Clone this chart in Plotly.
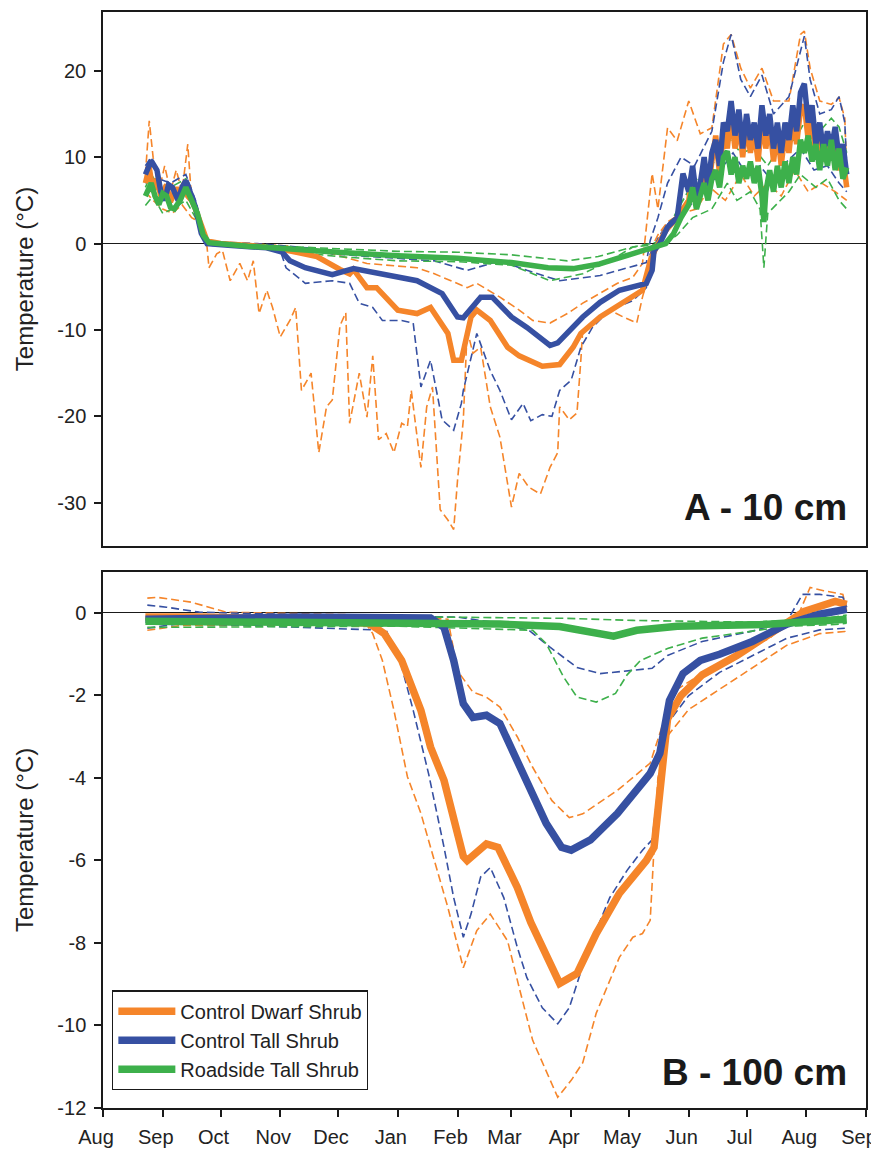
import plotly.graph_objects as go

# ---------------- names / ticks ----------------
series_names = ["Control Dwarf Shrub", "Control Tall Shrub", "Roadside Tall Shrub"]
month_ticks = ["Aug", "Sep", "Oct", "Nov", "Dec", "Jan", "Feb", "Mar", "Apr", "May", "Jun", "Jul", "Aug", "Sep"]
month_tick_dates = ["2012-08-01","2012-09-01","2012-10-01","2012-11-01","2012-12-01","2013-01-01",
                    "2013-02-01","2013-03-01","2013-04-01","2013-05-01","2013-06-01","2013-07-01",
                    "2013-08-01","2013-09-01"]
a_tick_vals = [-30, -20, -10, 0, 10, 20]
a_tick_text = ["-30", "-20", "-10", "0", "10", "20"]
b_tick_vals = [-12, -10, -8, -6, -4, -2, 0]
b_tick_text = ["-12", "-10", "-8", "-6", "-4", "-2", "0"]

# ================= Panel A : 10 cm =================
a_cds_mean_dates = ["2012-08-23","2012-08-25","2012-08-27","2012-08-29","2012-08-31","2012-09-03","2012-09-05","2012-09-08","2012-09-10","2012-09-12","2012-09-14","2012-09-16","2012-09-18","2012-09-21","2012-09-24","2012-10-01","2012-10-20","2012-11-05","2012-11-20","2012-12-02","2012-12-07","2012-12-09","2012-12-12","2012-12-16","2012-12-21","2013-01-01","2013-01-11","2013-01-18","2013-01-27","2013-01-30","2013-02-03","2013-02-08","2013-02-11","2013-02-18","2013-02-27","2013-03-05","2013-03-17","2013-03-26","2013-04-02","2013-04-06","2013-04-16","2013-04-30","2013-05-08","2013-05-12","2013-05-15","2013-05-20","2013-05-26","2013-06-01","2013-06-03","2013-06-05","2013-06-07","2013-06-09","2013-06-11","2013-06-13","2013-06-15","2013-06-17","2013-06-19","2013-06-21","2013-06-23","2013-06-25","2013-06-27","2013-06-29","2013-07-01","2013-07-03","2013-07-05","2013-07-07","2013-07-09","2013-07-11","2013-07-13","2013-07-15","2013-07-17","2013-07-19","2013-07-21","2013-07-23","2013-07-25","2013-07-27","2013-07-29","2013-07-31","2013-08-02","2013-08-04","2013-08-06","2013-08-08","2013-08-10","2013-08-12","2013-08-14","2013-08-16","2013-08-18","2013-08-20","2013-08-22"]
a_cds_mean_vals = [7.0,8.8,6.0,7.5,5.5,6.8,4.8,6.5,5.0,7.0,5.5,5.0,4.0,2.0,0.3,0.0,-0.3,-0.8,-1.5,-3.0,-3.5,-3.0,-4.0,-5.1,-5.1,-7.7,-8.1,-7.4,-10.4,-13.5,-13.5,-8.5,-7.7,-8.9,-12.0,-13.0,-14.2,-14.0,-12.0,-10.4,-8.5,-6.6,-5.4,-2.0,-0.5,1.5,3.0,5.0,8.0,4.5,6.0,9.0,6.0,9.5,12.5,8.0,13.0,11.0,15.0,11.0,14.0,10.0,14.0,10.5,13.0,9.5,14.5,11.0,14.0,9.5,13.0,9.0,13.0,10.5,14.5,11.5,15.5,16.0,12.0,14.5,10.0,13.0,9.5,12.5,10.0,12.0,8.5,10.0,6.5]

a_cts_mean_dates = ["2012-08-23","2012-08-26","2012-08-29","2012-08-31","2012-09-02","2012-09-04","2012-09-06","2012-09-09","2012-09-11","2012-09-13","2012-09-16","2012-09-18","2012-09-21","2012-09-24","2012-10-05","2012-10-25","2012-11-02","2012-11-06","2012-11-14","2012-11-28","2012-12-09","2012-12-24","2013-01-11","2013-01-24","2013-02-01","2013-02-04","2013-02-13","2013-02-19","2013-03-01","2013-03-09","2013-03-21","2013-03-25","2013-04-07","2013-04-16","2013-04-26","2013-05-10","2013-05-13","2013-05-14","2013-05-17","2013-05-21","2013-05-26","2013-05-29","2013-06-01","2013-06-03","2013-06-05","2013-06-07","2013-06-09","2013-06-11","2013-06-13","2013-06-15","2013-06-17","2013-06-19","2013-06-21","2013-06-23","2013-06-25","2013-06-27","2013-06-29","2013-07-01","2013-07-03","2013-07-05","2013-07-07","2013-07-09","2013-07-11","2013-07-13","2013-07-15","2013-07-17","2013-07-19","2013-07-21","2013-07-23","2013-07-25","2013-07-27","2013-07-29","2013-07-31","2013-08-02","2013-08-04","2013-08-06","2013-08-08","2013-08-10","2013-08-12","2013-08-14","2013-08-16","2013-08-18","2013-08-20","2013-08-22"]
a_cts_mean_vals = [8.0,9.6,8.5,6.0,5.0,6.8,6.5,5.0,6.5,7.3,5.5,4.2,1.2,0.0,-0.2,-0.5,-1.0,-2.0,-2.8,-3.6,-2.9,-3.5,-4.3,-5.8,-8.5,-8.6,-6.2,-6.2,-8.5,-9.7,-11.8,-11.5,-8.5,-6.8,-5.4,-4.6,-3.1,-0.8,0.0,1.9,3.0,8.1,6.0,9.0,5.5,7.0,10.0,6.5,10.5,12.0,9.0,14.0,13.0,16.5,12.5,15.5,11.0,15.0,12.0,14.0,11.0,16.0,12.5,15.0,11.0,14.0,10.5,14.0,12.0,16.0,13.0,17.5,18.5,14.0,16.0,11.5,14.0,10.5,13.0,11.0,13.5,10.0,11.5,8.0]

a_rts_mean_dates = ["2012-08-23","2012-08-26","2012-08-28","2012-08-30","2012-09-01","2012-09-03","2012-09-05","2012-09-07","2012-09-10","2012-09-13","2012-09-16","2012-09-19","2012-09-22","2012-09-25","2012-10-15","2012-11-01","2012-12-01","2013-01-01","2013-02-01","2013-03-01","2013-03-20","2013-04-02","2013-04-15","2013-05-01","2013-05-12","2013-05-20","2013-05-24","2013-05-28","2013-06-01","2013-06-03","2013-06-05","2013-06-07","2013-06-09","2013-06-11","2013-06-13","2013-06-15","2013-06-17","2013-06-19","2013-06-21","2013-06-23","2013-06-25","2013-06-27","2013-06-29","2013-07-01","2013-07-03","2013-07-05","2013-07-07","2013-07-09","2013-07-10","2013-07-11","2013-07-13","2013-07-15","2013-07-17","2013-07-19","2013-07-21","2013-07-23","2013-07-25","2013-07-27","2013-07-29","2013-07-31","2013-08-02","2013-08-04","2013-08-06","2013-08-08","2013-08-10","2013-08-12","2013-08-14","2013-08-16","2013-08-18","2013-08-20","2013-08-22"]
a_rts_mean_vals = [5.5,7.0,5.5,4.5,5.8,5.5,4.2,4.0,5.0,6.5,5.0,3.5,1.0,0.1,-0.3,-0.6,-1.0,-1.4,-1.7,-2.2,-2.8,-2.9,-2.4,-1.3,-0.5,0.0,1.1,3.0,4.5,6.5,4.0,5.5,7.0,5.0,7.5,8.5,6.5,10.0,10.7,8.0,10.0,7.0,9.0,7.5,9.5,7.0,9.0,5.5,2.5,6.0,8.5,6.0,9.0,6.5,9.5,7.0,10.0,8.0,12.0,10.5,12.5,9.5,11.5,8.5,11.5,9.0,12.0,8.5,11.0,7.5,8.8]

a_cds_max_dates = ["2012-08-23","2012-08-25","2012-08-27","2012-08-30","2012-09-02","2012-09-05","2012-09-08","2012-09-11","2012-09-14","2012-09-16","2012-09-19","2012-09-22","2012-09-25","2012-10-15","2012-11-05","2012-11-25","2012-12-16","2013-01-11","2013-01-20","2013-02-06","2013-02-11","2013-02-23","2013-03-05","2013-03-12","2013-03-21","2013-03-30","2013-04-07","2013-04-16","2013-04-25","2013-05-03","2013-05-08","2013-05-10","2013-05-13","2013-05-16","2013-05-21","2013-05-26","2013-06-01","2013-06-07","2013-06-13","2013-06-19","2013-06-23","2013-06-28","2013-07-03","2013-07-09","2013-07-15","2013-07-23","2013-07-29","2013-07-31","2013-08-03","2013-08-08","2013-08-14","2013-08-18","2013-08-21","2013-08-22"]
a_cds_max_vals = [8.0,14.2,10.0,6.0,9.0,6.0,8.5,6.0,11.5,5.0,4.0,1.5,0.2,0.0,-0.3,-1.0,-2.3,-2.8,-3.5,-5.1,-4.6,-6.2,-7.7,-8.9,-9.2,-8.1,-6.9,-5.8,-4.6,-3.9,-2.3,1.9,8.1,4.0,13.4,11.9,16.5,12.7,13.4,23.1,24.2,20.3,18.0,20.3,16.5,16.5,24.2,24.6,20.3,16.5,16.1,16.9,14.5,8.1]

a_cds_min_dates = ["2012-08-23","2012-08-27","2012-09-01","2012-09-06","2012-09-11","2012-09-16","2012-09-20","2012-09-24","2012-09-25","2012-09-29","2012-10-02","2012-10-06","2012-10-11","2012-10-15","2012-10-18","2012-10-21","2012-10-25","2012-10-28","2012-11-01","2012-11-06","2012-11-09","2012-11-12","2012-11-17","2012-11-21","2012-11-25","2012-11-28","2012-12-02","2012-12-05","2012-12-07","2012-12-12","2012-12-16","2012-12-19","2012-12-22","2012-12-26","2012-12-30","2013-01-03","2013-01-06","2013-01-08","2013-01-13","2013-01-16","2013-01-19","2013-01-23","2013-01-27","2013-01-30","2013-02-01","2013-02-04","2013-02-06","2013-02-09","2013-02-13","2013-02-18","2013-02-23","2013-03-01","2013-03-05","2013-03-10","2013-03-16","2013-03-21","2013-03-25","2013-03-26","2013-03-31","2013-04-04","2013-04-06","2013-04-07","2013-04-16","2013-04-21","2013-04-28","2013-05-05","2013-05-08","2013-05-10","2013-05-12","2013-05-16","2013-05-21","2013-05-28","2013-06-05","2013-06-12","2013-06-20","2013-06-28","2013-07-05","2013-07-12","2013-07-19","2013-07-26","2013-08-02","2013-08-09","2013-08-16","2013-08-22"]
a_cds_min_vals = [6.0,5.0,4.0,3.5,4.5,3.0,2.5,-0.4,-2.8,-1.2,-0.8,-4.3,-2.3,-4.3,-2.0,-8.1,-5.4,-7.4,-10.8,-8.9,-7.4,-17.0,-15.0,-24.2,-18.9,-18.1,-9.5,-8.0,-20.8,-15.0,-20.1,-13.0,-22.7,-22.0,-24.2,-20.8,-21.2,-17.0,-25.9,-18.9,-16.6,-30.8,-32.0,-33.1,-27.4,-20.4,-10.0,-12.7,-12.0,-18.9,-22.4,-30.5,-26.6,-28.2,-29.0,-25.9,-24.2,-18.9,-20.4,-19.6,-13.5,-10.0,-8.5,-7.7,-8.5,-9.2,-6.2,-4.6,-0.8,1.0,2.5,3.5,4.0,6.5,5.0,8.0,5.5,7.0,5.5,8.5,6.0,7.0,6.0,5.0]

a_cts_max_dates = ["2012-08-23","2012-08-26","2012-08-30","2012-09-05","2012-09-13","2012-09-18","2012-09-22","2012-09-25","2012-10-20","2012-11-15","2012-11-28","2012-12-24","2013-01-20","2013-02-06","2013-02-23","2013-03-09","2013-03-26","2013-04-16","2013-05-03","2013-05-10","2013-05-12","2013-05-16","2013-05-21","2013-05-28","2013-06-04","2013-06-13","2013-06-19","2013-06-23","2013-06-28","2013-07-03","2013-07-09","2013-07-15","2013-07-23","2013-07-29","2013-07-31","2013-08-03","2013-08-08","2013-08-14","2013-08-18","2013-08-21","2013-08-22"]
a_cts_max_vals = [9.0,10.0,7.5,7.0,8.0,5.0,1.5,0.2,0.0,-0.5,-1.2,-1.6,-2.0,-3.1,-2.0,-3.1,-4.3,-3.7,-2.6,-2.2,0.35,3.0,7.0,10.0,9.0,13.0,21.0,24.2,19.0,17.0,19.5,15.0,17.0,22.0,24.0,19.0,15.0,15.5,17.0,14.0,9.0]

a_cts_min_dates = ["2012-08-23","2012-08-27","2012-09-01","2012-09-06","2012-09-13","2012-09-18","2012-09-22","2012-09-25","2012-10-15","2012-11-01","2012-11-04","2012-11-14","2012-11-28","2012-12-07","2012-12-12","2012-12-19","2012-12-24","2013-01-03","2013-01-09","2013-01-13","2013-01-18","2013-01-24","2013-01-30","2013-02-03","2013-02-04","2013-02-11","2013-02-18","2013-02-23","2013-03-01","2013-03-07","2013-03-11","2013-03-17","2013-03-22","2013-03-26","2013-04-01","2013-04-06","2013-04-12","2013-04-21","2013-05-03","2013-05-10","2013-05-12","2013-05-17","2013-05-22","2013-05-30","2013-06-08","2013-06-16","2013-06-24","2013-07-01","2013-07-08","2013-07-15","2013-07-22","2013-07-29","2013-08-05","2013-08-12","2013-08-18","2013-08-22"]
a_cts_min_vals = [7.0,7.5,5.0,5.0,6.0,3.5,0.5,-0.2,-0.3,-0.8,-2.8,-4.6,-4.3,-4.6,-6.9,-7.4,-8.9,-8.9,-9.2,-16.6,-13.5,-20.4,-21.6,-18.5,-17.0,-10.4,-14.7,-17.0,-20.4,-18.5,-20.5,-19.8,-20.0,-17.0,-15.8,-12.0,-9.7,-7.7,-6.6,-5.1,-1.2,1.0,2.5,4.0,5.5,8.0,10.5,8.0,9.0,7.0,9.5,11.0,8.5,9.0,7.0,6.0]

a_rts_max_dates = ["2012-08-23","2012-08-26","2012-09-01","2012-09-13","2012-09-18","2012-09-22","2012-09-25","2012-11-01","2012-12-01","2013-01-01","2013-02-01","2013-03-01","2013-03-30","2013-04-15","2013-05-03","2013-05-17","2013-05-24","2013-06-03","2013-06-13","2013-06-21","2013-06-28","2013-07-05","2013-07-12","2013-07-19","2013-07-26","2013-07-31","2013-08-06","2013-08-14","2013-08-18","2013-08-22"]
a_rts_max_vals = [6.5,8.0,6.0,7.5,4.5,1.5,0.2,-0.3,-0.6,-0.9,-1.0,-1.3,-2.0,-1.5,-0.4,0.2,3.0,7.0,9.0,12.5,10.5,11.0,9.0,11.5,12.0,14.0,12.5,14.5,13.5,10.5]

a_rts_min_dates = ["2012-08-23","2012-08-27","2012-09-01","2012-09-06","2012-09-13","2012-09-18","2012-09-22","2012-09-25","2012-11-01","2012-12-01","2013-01-01","2013-02-01","2013-03-01","2013-03-21","2013-04-07","2013-04-21","2013-05-03","2013-05-20","2013-05-26","2013-06-03","2013-06-13","2013-06-21","2013-06-26","2013-07-03","2013-07-08","2013-07-10","2013-07-12","2013-07-23","2013-07-29","2013-08-06","2013-08-12","2013-08-18","2013-08-22"]
a_rts_min_vals = [4.4,5.5,3.5,4.0,5.0,3.0,0.5,-0.1,-0.8,-1.5,-2.0,-2.1,-2.5,-4.3,-3.5,-2.0,-0.4,0.0,1.0,3.0,4.0,7.0,5.0,6.0,4.0,-2.8,3.5,6.0,8.0,6.5,7.5,5.0,4.0]

# ================= Panel B : 100 cm =================
b_cds_mean_dates = ["2012-08-23","2012-09-20","2012-11-11","2012-12-17","2012-12-25","2013-01-03","2013-01-13","2013-01-18","2013-01-25","2013-02-04","2013-02-06","2013-02-16","2013-02-22","2013-03-04","2013-03-11","2013-03-26","2013-04-04","2013-04-14","2013-04-26","2013-05-10","2013-05-14","2013-05-17","2013-05-19","2013-05-21","2013-05-28","2013-06-08","2013-06-26","2013-07-13","2013-07-31","2013-08-16","2013-08-22"]
b_cds_mean_vals = [-0.1,-0.1,-0.15,-0.25,-0.5,-1.15,-2.36,-3.25,-4.06,-5.9,-6.0,-5.6,-5.68,-6.65,-7.5,-8.98,-8.74,-7.77,-6.8,-6.0,-5.68,-4.3,-3.2,-2.57,-2.0,-1.5,-1.03,-0.53,0.04,0.28,0.21]

b_cts_mean_dates = ["2012-08-23","2012-11-11","2013-01-18","2013-01-25","2013-01-30","2013-02-04","2013-02-09","2013-02-16","2013-02-23","2013-03-02","2013-03-11","2013-03-19","2013-03-27","2013-04-01","2013-04-11","2013-04-25","2013-05-12","2013-05-17","2013-05-22","2013-05-29","2013-06-07","2013-06-17","2013-07-04","2013-07-22","2013-08-08","2013-08-22"]
b_cts_mean_vals = [-0.15,-0.1,-0.12,-0.35,-1.15,-2.2,-2.53,-2.48,-2.68,-3.4,-4.37,-5.1,-5.68,-5.75,-5.5,-4.86,-3.89,-3.4,-2.12,-1.47,-1.15,-1.0,-0.69,-0.27,-0.03,0.09]

b_rts_mean_dates = ["2012-08-23","2012-10-15","2013-01-01","2013-02-23","2013-03-26","2013-04-11","2013-04-23","2013-05-05","2013-05-26","2013-07-10","2013-08-10","2013-08-22"]
b_rts_mean_vals = [-0.2,-0.22,-0.22,-0.27,-0.33,-0.45,-0.56,-0.42,-0.32,-0.28,-0.2,-0.15]

b_cds_max_dates = ["2012-08-24","2012-08-29","2012-09-16","2012-09-27","2012-10-04","2012-12-15","2013-01-27","2013-02-01","2013-02-09","2013-02-16","2013-02-23","2013-03-04","2013-03-12","2013-03-22","2013-03-31","2013-04-07","2013-04-25","2013-05-12","2013-05-21","2013-05-26","2013-06-17","2013-07-13","2013-07-28","2013-08-03","2013-08-10","2013-08-20","2013-08-22"]
b_cds_max_vals = [0.36,0.38,0.26,0.11,0.02,-0.05,-0.15,-1.4,-1.92,-2.04,-2.28,-3.0,-3.74,-4.55,-4.96,-4.87,-4.3,-3.64,-2.34,-1.85,-1.2,-0.61,-0.03,0.62,0.54,0.45,0.04]

b_cds_min_dates = ["2012-08-24","2012-09-11","2012-12-16","2012-12-19","2012-12-24","2012-12-30","2013-01-06","2013-01-13","2013-01-18","2013-01-27","2013-02-04","2013-02-11","2013-02-18","2013-02-27","2013-03-05","2013-03-12","2013-03-25","2013-04-01","2013-04-07","2013-04-14","2013-04-26","2013-05-03","2013-05-08","2013-05-12","2013-05-14","2013-05-16","2013-05-21","2013-06-01","2013-06-17","2013-07-04","2013-07-22","2013-08-08","2013-08-21","2013-08-22"]
b_cds_min_vals = [-0.42,-0.3,-0.3,-0.5,-1.15,-2.36,-3.97,-4.86,-5.68,-7.14,-8.6,-7.7,-7.3,-7.95,-9.08,-10.36,-11.74,-11.33,-10.9,-9.7,-8.35,-7.86,-7.77,-7.45,-5.68,-4.0,-2.98,-2.34,-1.85,-1.34,-0.78,-0.5,-0.45,-0.55]

b_cts_max_dates = ["2012-08-24","2012-09-03","2012-09-20","2012-11-15","2013-02-01","2013-02-23","2013-03-10","2013-03-21","2013-04-04","2013-04-16","2013-05-03","2013-05-13","2013-05-21","2013-06-08","2013-07-04","2013-07-22","2013-07-30","2013-08-08","2013-08-20","2013-08-22"]
b_cts_max_vals = [0.19,0.14,0.02,-0.05,-0.1,-0.25,-0.42,-0.83,-1.32,-1.47,-1.39,-1.34,-1.03,-0.69,-0.44,-0.2,0.45,0.45,0.38,0.14]

b_cts_min_dates = ["2012-08-24","2012-09-11","2012-12-26","2013-01-03","2013-01-09","2013-01-17","2013-01-25","2013-01-30","2013-02-04","2013-02-08","2013-02-13","2013-02-18","2013-02-25","2013-03-04","2013-03-09","2013-03-17","2013-03-25","2013-03-31","2013-04-09","2013-04-21","2013-04-30","2013-05-08","2013-05-13","2013-05-16","2013-05-21","2013-06-01","2013-06-17","2013-07-04","2013-07-22","2013-08-08","2013-08-21"]
b_cts_min_vals = [-0.37,-0.25,-0.42,-1.3,-2.36,-3.9,-5.68,-6.9,-7.86,-7.3,-6.4,-6.17,-6.9,-8.1,-8.84,-9.57,-9.96,-9.57,-8.26,-6.9,-6.24,-5.75,-5.5,-4.3,-2.68,-2.0,-1.44,-1.03,-0.61,-0.41,-0.37]

b_rts_max_dates = ["2012-08-24","2013-01-25","2013-03-30","2013-05-03","2013-06-01","2013-07-04","2013-08-08","2013-08-22"]
b_rts_max_vals = [-0.1,-0.1,-0.13,-0.18,-0.2,-0.22,-0.15,-0.05]

b_rts_min_dates = ["2012-08-24","2013-01-01","2013-03-12","2013-03-19","2013-03-28","2013-04-04","2013-04-14","2013-04-24","2013-04-30","2013-05-07","2013-05-21","2013-06-08","2013-07-04","2013-07-22","2013-08-16","2013-08-22"]
b_rts_min_vals = [-0.35,-0.32,-0.42,-0.74,-1.55,-2.04,-2.16,-1.95,-1.5,-1.15,-0.86,-0.61,-0.44,-0.32,-0.28,-0.25]

# ---------------- style ----------------
ORANGE = "#F5852A"
BLUE = "#3650A2"
GREEN = "#3DB04B"
INK = "#1a1a1a"
FONT = "Liberation Sans, Arial, sans-serif"

fig = go.Figure()

def dashed(x, y, color, xa, ya):
    fig.add_trace(go.Scatter(x=x, y=y, mode="lines", xaxis=xa, yaxis=ya,
                             line=dict(color=color, width=1.6, dash="8px,4px"),
                             showlegend=False, hoverinfo="skip"))

def thick(x, y, color, name, xa, ya, legend, width):
    fig.add_trace(go.Scatter(x=x, y=y, mode="lines", xaxis=xa, yaxis=ya, name=name,
                             line=dict(color=color, width=width),
                             showlegend=legend))

# Panel A
dashed(a_cds_min_dates, a_cds_min_vals, ORANGE, "x", "y")
dashed(a_cds_max_dates, a_cds_max_vals, ORANGE, "x", "y")
dashed(a_cts_min_dates, a_cts_min_vals, BLUE, "x", "y")
dashed(a_cts_max_dates, a_cts_max_vals, BLUE, "x", "y")
dashed(a_rts_min_dates, a_rts_min_vals, GREEN, "x", "y")
dashed(a_rts_max_dates, a_rts_max_vals, GREEN, "x", "y")
thick(a_cds_mean_dates, a_cds_mean_vals, ORANGE, series_names[0], "x", "y", False, 5.5)
thick(a_cts_mean_dates, a_cts_mean_vals, BLUE, series_names[1], "x", "y", False, 5.5)
thick(a_rts_mean_dates, a_rts_mean_vals, GREEN, series_names[2], "x", "y", False, 5.5)

# Panel B
dashed(b_cds_min_dates, b_cds_min_vals, ORANGE, "x2", "y2")
dashed(b_cds_max_dates, b_cds_max_vals, ORANGE, "x2", "y2")
dashed(b_cts_min_dates, b_cts_min_vals, BLUE, "x2", "y2")
dashed(b_cts_max_dates, b_cts_max_vals, BLUE, "x2", "y2")
dashed(b_rts_min_dates, b_rts_min_vals, GREEN, "x2", "y2")
dashed(b_rts_max_dates, b_rts_max_vals, GREEN, "x2", "y2")
thick(b_cds_mean_dates, b_cds_mean_vals, ORANGE, series_names[0], "x2", "y2", True, 7.5)
thick(b_cts_mean_dates, b_cts_mean_vals, BLUE, series_names[1], "x2", "y2", True, 7.5)
thick(b_rts_mean_dates, b_rts_mean_vals, GREEN, series_names[2], "x2", "y2", True, 7.5)

axis_common = dict(showline=True, linecolor=INK, linewidth=1.5, mirror=True,
                   showgrid=False, ticks="outside", ticklen=7, tickwidth=1.5,
                   tickcolor=INK, automargin=False,
                   tickfont=dict(family=FONT, size=20, color="#222"))

xrange = ["2012-08-01", "2013-09-01"]

# the page body has an 8px default margin, so the figure is 8px smaller
fig.update_layout(
    width=871, height=1142,
    margin=dict(l=95, r=13, t=4, b=42, autoexpand=False),
    paper_bgcolor="white", plot_bgcolor="white",
    font=dict(family=FONT, color="#222"),
    xaxis=dict(axis_common, type="date", range=xrange, domain=[0, 1], anchor="y",
               ticks="", showticklabels=False),
    yaxis=dict(axis_common, range=[-35, 26.8], domain=[0.5128, 1.0], anchor="x",
               tickmode="array", tickvals=a_tick_vals, ticktext=a_tick_text,
               ticklabelstandoff=4,
               zeroline=True, zerolinecolor=INK, zerolinewidth=1.2),
    xaxis2=dict(axis_common, type="date", range=xrange, domain=[0, 1], anchor="y2",
                tickmode="array", tickvals=month_tick_dates, ticktext=month_ticks,
                ticklabelshift=-7, ticklabelstandoff=3),
    yaxis2=dict(axis_common, range=[-12, 1.0], domain=[0.0, 0.4893], anchor="x2",
                tickmode="array", tickvals=b_tick_vals, ticktext=b_tick_text,
                ticklabelstandoff=4,
                zeroline=True, zerolinecolor=INK, zerolinewidth=1.2),
    legend=dict(x=0.012, y=0.016, xanchor="left", yanchor="bottom",
                bgcolor="white", bordercolor=INK, borderwidth=1.2,
                font=dict(family=FONT, size=20, color="#222"), tracegroupgap=0,
                itemwidth=57),
    annotations=[
        dict(text="Temperature (°C)", xref="paper", yref="y domain", x=-0.102, y=0.5,
             xanchor="center", yanchor="middle", textangle=-90, showarrow=False,
             font=dict(family=FONT, size=24, color="#222")),
        dict(text="Temperature (°C)", xref="paper", yref="y2 domain", x=-0.102, y=0.5,
             xanchor="center", yanchor="middle", textangle=-90, showarrow=False,
             font=dict(family=FONT, size=24, color="#222")),
        dict(text="<b>A - 10 cm</b>", xref="x domain", yref="y domain", x=0.978, y=0.03,
             xanchor="right", yanchor="bottom", showarrow=False,
             font=dict(family=FONT, size=37, color=INK)),
        dict(text="<b>B - 100 cm</b>", xref="x2 domain", yref="y2 domain", x=0.978, y=0.025,
             xanchor="right", yanchor="bottom", showarrow=False,
             font=dict(family=FONT, size=37, color=INK)),
    ],
)

fig.write_html("out.html")
